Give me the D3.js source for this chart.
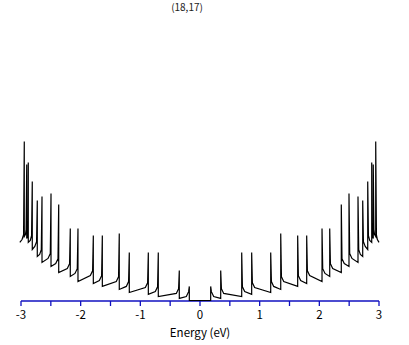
<!DOCTYPE html>
<html>
<head>
<meta charset="utf-8">
<script src="https://cdn.jsdelivr.net/npm/d3@7"></script>
<style>
  body { margin: 0; background: #fff; }
  text { font-family: "Noto Sans CJK JP", "DejaVu Sans", sans-serif; }
</style>
</head>
<body>
<div id="chart"></div>
<script>
// van Hove singularity positions (eV) and DOS levels (arb. units)
const eNeg = [-2.945, -2.904, -2.878, -2.811, -2.727, -2.648, -2.497, -2.368, -2.174, -2.045, -1.788, -1.637, -1.353, -1.185, -0.866, -0.699, -0.347, -0.179];
const topNeg = [9.94, 8.5, 8.63, 7.44, 6.25, 6.5, 6.69, 6.0, 4.5, 4.5, 4.06, 4.06, 4.19, 3.0, 3.0, 3.0, 1.88, 0.88];
const footNeg = [3.81, 4.13, 4.0, 3.75, 3.38, 2.88, 2.63, 2.31, 2.0, 1.69, 1.56, 1.25, 1.19, 0.88, 0.81, 0.56, 0.44, 0.25];
const floorNeg = [4.0, 3.88, 3.63, 3.19, 2.75, 2.38, 2.13, 1.75, 1.5, 1.19, 1.06, 0.88, 0.69, 0.5, 0.38, 0.25, 0.13, 0];

const ePos = [0.179, 0.347, 0.699, 0.866, 1.185, 1.353, 1.637, 1.788, 2.045, 2.174, 2.368, 2.497, 2.648, 2.727, 2.811, 2.878, 2.904, 2.945];
const topPos = [0.88, 1.88, 3.0, 3.0, 3.0, 4.19, 4.06, 4.06, 4.5, 4.5, 6.0, 6.69, 6.5, 6.25, 7.44, 8.63, 8.5, 9.94];
const footPos = [0.25, 0.44, 0.56, 0.81, 0.88, 1.19, 1.25, 1.56, 1.69, 2.0, 2.31, 2.63, 2.88, 3.38, 3.75, 4.0, 4.13, 3.81];
const floorPos = [0, 0.13, 0.25, 0.38, 0.5, 0.69, 0.88, 1.06, 1.19, 1.5, 1.75, 2.13, 2.38, 2.75, 3.19, 3.63, 3.88, 4.0];

const edgeE = [-3.02, 3.0];
const edgeDos = [3.63, 3.63];

const xTicks = [-3, -2.5, -2, -1.5, -1, -0.5, 0, 0.5, 1, 1.5, 2, 2.5, 3];
const xLabels = [-3, -2, -1, 0, 1, 2, 3];
const title = "(18,17)";
const xTitle = "Energy (eV)";

const W = 409, H = 345;
const svg = d3.select("#chart").append("svg")
    .attr("width", W)
    .attr("height", H);

const x = d3.scaleLinear().domain([-3, 3]).range([21, 379]);
const y = d3.scaleLinear().domain([0, 10]).range([300.5, 140.5]);

// build curve points
const pts = [];
pts.push([edgeE[0], edgeDos[0]]);
eNeg.forEach((e, i) => {
    const prev = i === 0 ? edgeE[0] : eNeg[i - 1];
    const knee = Math.max(e - 0.05, (prev + e) / 2);
    pts.push([knee, footNeg[i]]);
    pts.push([e - Math.min(0.012, (e - prev) / 4), footNeg[i] + 0.3]);
    pts.push([e, topNeg[i]]);
    pts.push([e, floorNeg[i]]);
});
ePos.forEach((e, i) => {
    const next = i === ePos.length - 1 ? edgeE[1] : ePos[i + 1];
    const knee = Math.min(e + 0.05, (next + e) / 2);
    pts.push([e, floorPos[i]]);
    pts.push([e, topPos[i]]);
    pts.push([e + Math.min(0.012, (next - e) / 4), footPos[i] + 0.3]);
    pts.push([knee, footPos[i]]);
});
pts.push([edgeE[1], edgeDos[1]]);

const line = d3.line()
    .x(d => x(d[0]))
    .y(d => y(d[1]));

// axis
const axisColor = "#1010c0";
const ax = svg.append("g").attr("transform", "translate(0,301)");
ax.append("line")
    .attr("x1", x(-3)).attr("x2", x(3))
    .attr("stroke", axisColor).attr("stroke-width", 1.3);
ax.selectAll(".tk").data(xTicks).join("line")
    .attr("x1", d => x(d)).attr("x2", d => x(d))
    .attr("y1", 0).attr("y2", 5)
    .attr("stroke", axisColor).attr("stroke-width", 1.3);
ax.selectAll(".lb").data(xLabels).join("text")
    .attr("x", d => x(d)).attr("y", 18)
    .attr("text-anchor", "middle")
    .attr("font-size", 11.5)
    .attr("fill", "#000")
    .text(d => String(d));

svg.append("path")
    .datum(pts)
    .attr("d", line)
    .attr("fill", "none")
    .attr("stroke", "#000")
    .attr("stroke-width", 1.2);

svg.append("text")
    .attr("x", 200).attr("y", 337)
    .attr("text-anchor", "middle")
    .attr("font-size", 11.5)
    .text(xTitle);

svg.append("text")
    .attr("x", 187).attr("y", 11)
    .attr("text-anchor", "middle")
    .attr("font-size", 10)
    .attr("fill", "#222")
    .text(title);
</script>
</body>
</html>
